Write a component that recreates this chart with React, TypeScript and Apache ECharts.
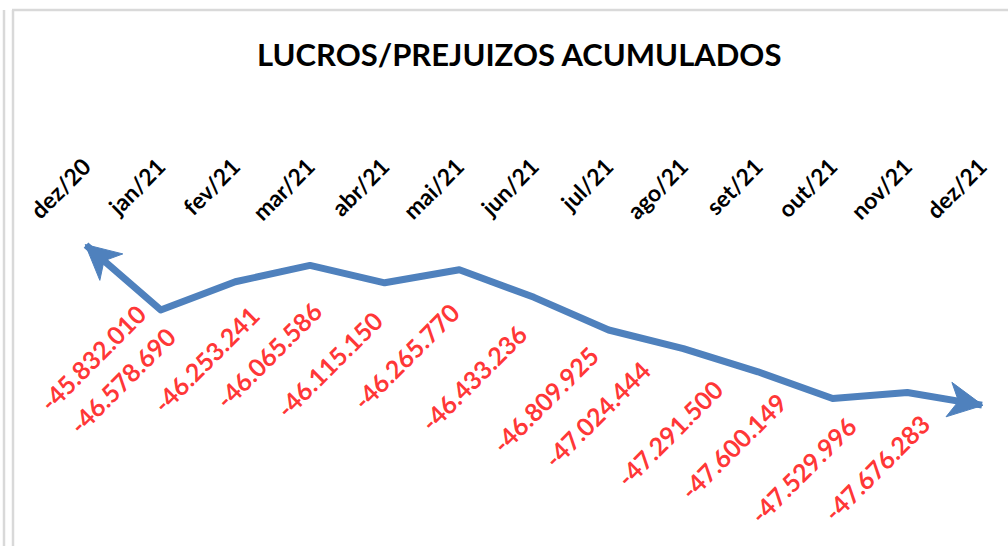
import React, { useEffect, useRef } from 'react';
import * as echarts from 'echarts';

const categories = ['dez/20', 'jan/21', 'fev/21', 'mar/21', 'abr/21', 'mai/21', 'jun/21', 'jul/21', 'ago/21', 'set/21', 'out/21', 'nov/21', 'dez/21'];
// values along the drawn arrow line
const lineValues = [-45832010, -46578690, -46253241, -46065586, -46265770, -46115150, -46433236, -46809925, -47024444, -47291500, -47600149, -47529996, -47676283];
// printed data labels, in the order they appear
const labelValues = [-45832010, -46578690, -46253241, -46065586, -46115150, -46265770, -46433236, -46809925, -47024444, -47291500, -47600149, -47529996, -47676283];
// label placement (screen shift from the point to the label's end)
const labelShift = [[55, 64], [10, 22], [19, 29], [7, 41], [-7, 33], [-5, 38], [-12, 32], [-15, 21], [-38, 17], [-40, 13], [-51, -1], [-56, 29], [-57, 14]];

const FONT = 'Lato';
const BLUE = '#4F81BD';
const ARROW_LEN = 34.5;
const ARROW_HALF_W = 17.5;
const ARROW_NOTCH = 0.72;
const ARROW_EXT = 1;

function fmt(v: number): string {
  const s = Math.abs(Math.round(v)).toString().replace(/\B(?=(\d{3})+(?!\d))/g, '.');
  return (v < 0 ? '-' : '') + s;
}

const last = lineValues.length - 1;
const arrowData = [
  [0, lineValues[0], 1, lineValues[1]],
  [last, lineValues[last], last - 1, lineValues[last - 1]],
];

function renderArrow(params: any, api: any) {
  const p = api.coord([api.value(0), api.value(1)]);
  const q = api.coord([api.value(2), api.value(3)]);
  const dx = p[0] - q[0];
  const dy = p[1] - q[1];
  const len = Math.sqrt(dx * dx + dy * dy) || 1;
  const ux = dx / len;
  const uy = dy / len;
  const nx = -uy;
  const ny = ux;
  const tip = [p[0] + ux * ARROW_EXT, p[1] + uy * ARROW_EXT];
  const base = [tip[0] - ux * ARROW_LEN, tip[1] - uy * ARROW_LEN];
  const notch = [tip[0] - ux * ARROW_LEN * ARROW_NOTCH, tip[1] - uy * ARROW_LEN * ARROW_NOTCH];
  return {
    type: 'polygon',
    shape: {
      points: [
        tip,
        [base[0] + nx * ARROW_HALF_W, base[1] + ny * ARROW_HALF_W],
        notch,
        [base[0] - nx * ARROW_HALF_W, base[1] - ny * ARROW_HALF_W],
      ],
    },
    style: { fill: BLUE, stroke: BLUE, lineWidth: 1 },
  };
}

export default function App() {
  const ref = useRef<HTMLDivElement>(null);
  useEffect(() => {
    if (!ref.current) return;
    const chart = echarts.init(ref.current, undefined, { renderer: 'svg' });
    chart.setOption({
      animation: false,
      backgroundColor: '#ffffff',
      title: {
        text: 'LUCROS/PREJUIZOS ACUMULADOS',
        left: 252,
        top: 33,
        textStyle: { fontFamily: FONT, fontWeight: 'bold', fontSize: 31, color: '#000' },
      },
      grid: { left: 86, right: 26, top: 160, bottom: 26, containLabel: false },
      xAxis: {
        type: 'category',
        position: 'top',
        data: categories,
        boundaryGap: false,
        axisLine: { show: false },
        axisTick: { show: false },
        splitLine: { show: false },
        axisLabel: {
          interval: 0,
          rotate: -45,
          align: 'right',
          verticalAlign: 'middle',
          margin: -2,
          fontFamily: FONT,
          fontWeight: 'bold',
          fontSize: 23,
          color: '#000',
        },
      },
      yAxis: { type: 'value', min: -49000000, max: -44850000, show: false },
      series: [
        {
          type: 'line',
          data: lineValues,
          symbol: 'none',
          lineStyle: { color: BLUE, width: 7, cap: 'butt', join: 'round' },
          emphasis: { disabled: true },
          z: 3,
        },
        {
          type: 'custom',
          data: arrowData,
          encode: { x: 0, y: 1 },
          renderItem: renderArrow,
          silent: true,
          z: 4,
        },
        {
          type: 'scatter',
          data: lineValues,
          symbolSize: 1,
          itemStyle: { color: 'rgba(0,0,0,0)' },
          silent: true,
          emphasis: { disabled: true },
          label: {
            show: true,
            position: 'inside',
            formatter: (p: any) => fmt(labelValues[p.dataIndex]),
            rotate: 45,
            align: 'right',
            verticalAlign: 'middle',
            color: '#FF0000',
            fontFamily: FONT,
            fontWeight: 'bold',
            fontSize: 25,
          },
          labelLayout: (p: any) => ({
            x: p.rect.x + p.rect.width / 2 + labelShift[p.dataIndex][0],
            y: p.rect.y + p.rect.height / 2 + labelShift[p.dataIndex][1],
            rotate: 45,
            align: 'right',
            verticalAlign: 'middle',
          }),
          z: 5,
        },
      ],
      graphic: [
        { type: 'line', silent: true, shape: { x1: 4, y1: 10, x2: 4, y2: 546 }, style: { stroke: '#d9d9d9', lineWidth: 2.5 } },
        { type: 'line', silent: true, shape: { x1: 13, y1: 10, x2: 13, y2: 546 }, style: { stroke: '#d9d9d9', lineWidth: 2.5 } },
        { type: 'line', silent: true, shape: { x1: 12, y1: 10, x2: 1008, y2: 10 }, style: { stroke: '#d9d9d9', lineWidth: 2.5 } },
      ],
    } as any);
    return () => chart.dispose();
  }, []);
  return <div ref={ref} style={{ position: 'fixed', left: 0, top: 0, width: 1008, height: 546 }} />;
}
